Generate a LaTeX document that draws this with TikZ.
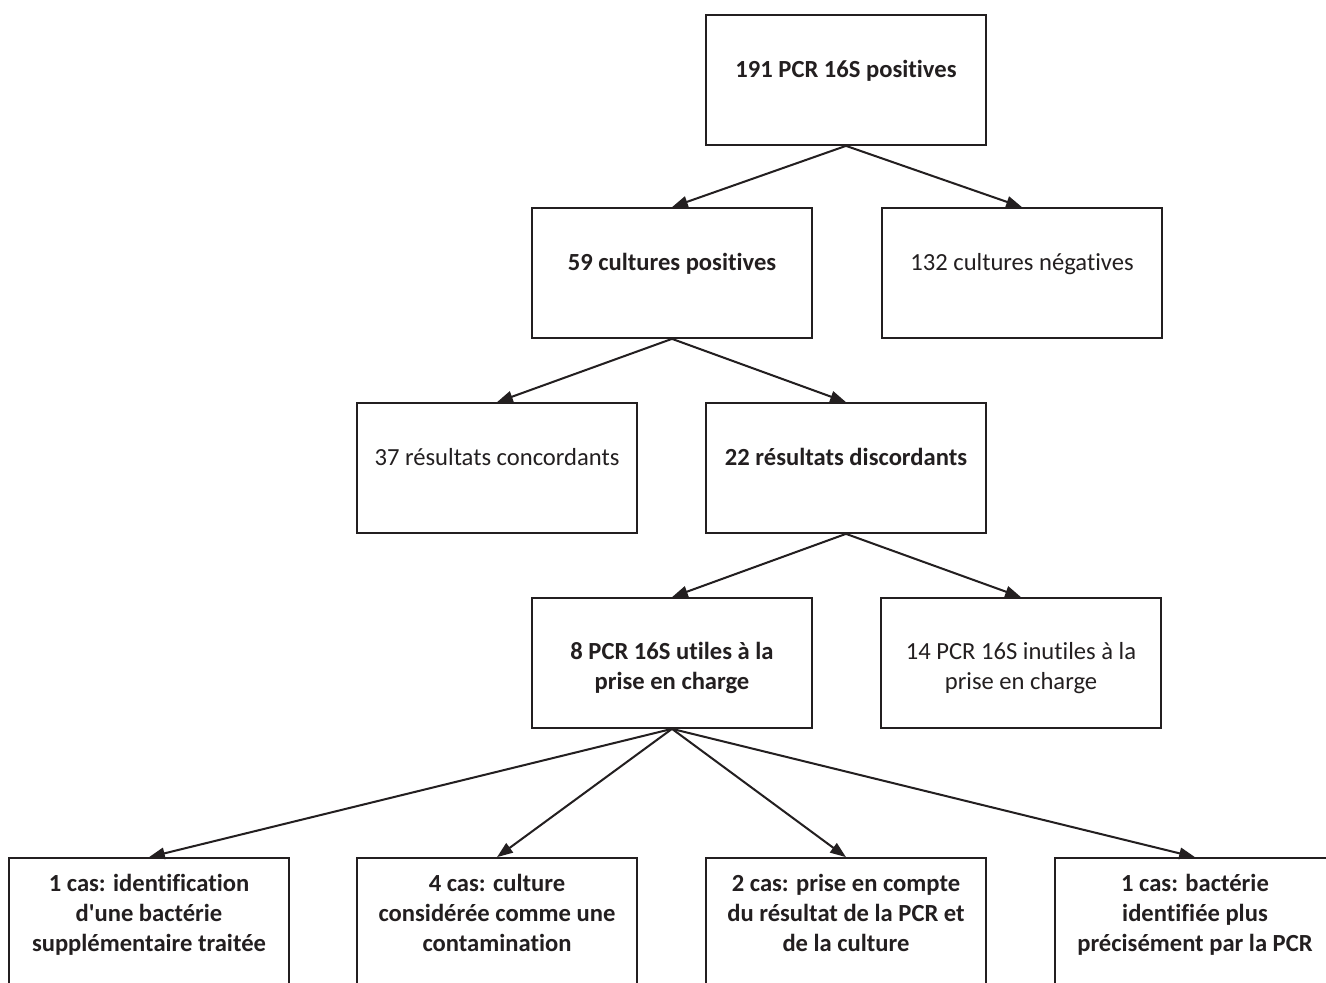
\documentclass[tikz,border=0pt]{standalone}
\usepackage{fontspec}
\setmainfont[Ligatures={NoCommon}]{Carlito}
\usetikzlibrary{arrows.meta}
\definecolor{ink}{RGB}{35,31,32}

\begin{document}
\begin{tikzpicture}[x=0.02cm, y=-0.02cm,
  box/.style={rectangle, draw=ink, line width=1pt, fill=white, minimum width=5.6cm,
    minimum height=2.6cm, align=center, text=ink, inner sep=0pt,
    font=\fontsize{14}{17}\selectfont},
  boldbox/.style={box, font=\fontsize{14}{17}\selectfont\bfseries},
  oneline/.style={text depth=0.46cm},
  twoline/.style={text height=33pt, text depth=3.4pt},
  threeline/.style={text height=44.5pt, text depth=12.6pt},
  arrow/.style={-{Triangle[length=9pt,width=6.5pt]}, line width=1.15pt, draw=ink},
]
\useasboundingbox (0,0) rectangle (1326,983);
\clip (0,0) rectangle (1326,983);

%% -- Level 1 --
\node[boldbox, oneline] (pcr)   at (846,80)  {191 PCR 16S positives};
%% -- Level 2 --
\node[boldbox, oneline] (cpos)  at (672,273) {59 cultures positives};
\node[box, oneline]     (cneg)  at (1022,273) {132 cultures négatives};
%% -- Level 3 --
\node[box, oneline]     (conc)  at (497,468) {37 résultats concordants};
\node[boldbox, oneline] (disc)  at (846,468) {22 résultats discordants};
%% -- Level 4 --
\node[boldbox, twoline] (utile)   at (672,663)  {8 PCR 16S utiles à la\\prise en charge};
\node[box, twoline]     (inutile) at (1021,663) {14 PCR 16S inutiles à la\\prise en charge};
%% -- Level 5: cases --
\node[boldbox, threeline] (cas1) at (149,923)  {1 cas: identification\\d\textquotesingle une bactérie\\supplémentaire traitée};
\node[boldbox, threeline] (cas2) at (497,923)  {4 cas: culture\\considérée comme une\\contamination};
\node[boldbox, threeline] (cas3) at (846,923)  {2 cas: prise en compte\\du résultat de la PCR et\\de la culture};
\node[boldbox, threeline] (cas4) at (1195,923) {1 cas: bactérie\\identifiée plus\\précisément par la PCR};

%% -- Arrows --
\draw[arrow] (pcr.south)  -- (cpos.north);
\draw[arrow] (pcr.south)  -- (cneg.north);
\draw[arrow] (cpos.south) -- (conc.north);
\draw[arrow] (cpos.south) -- (disc.north);
\draw[arrow] (disc.south) -- (utile.north);
\draw[arrow] (disc.south) -- (inutile.north);
\foreach \c in {cas1,cas2,cas3,cas4}
  \draw[arrow] (utile.south) -- (\c.north);
\end{tikzpicture}
\end{document}
